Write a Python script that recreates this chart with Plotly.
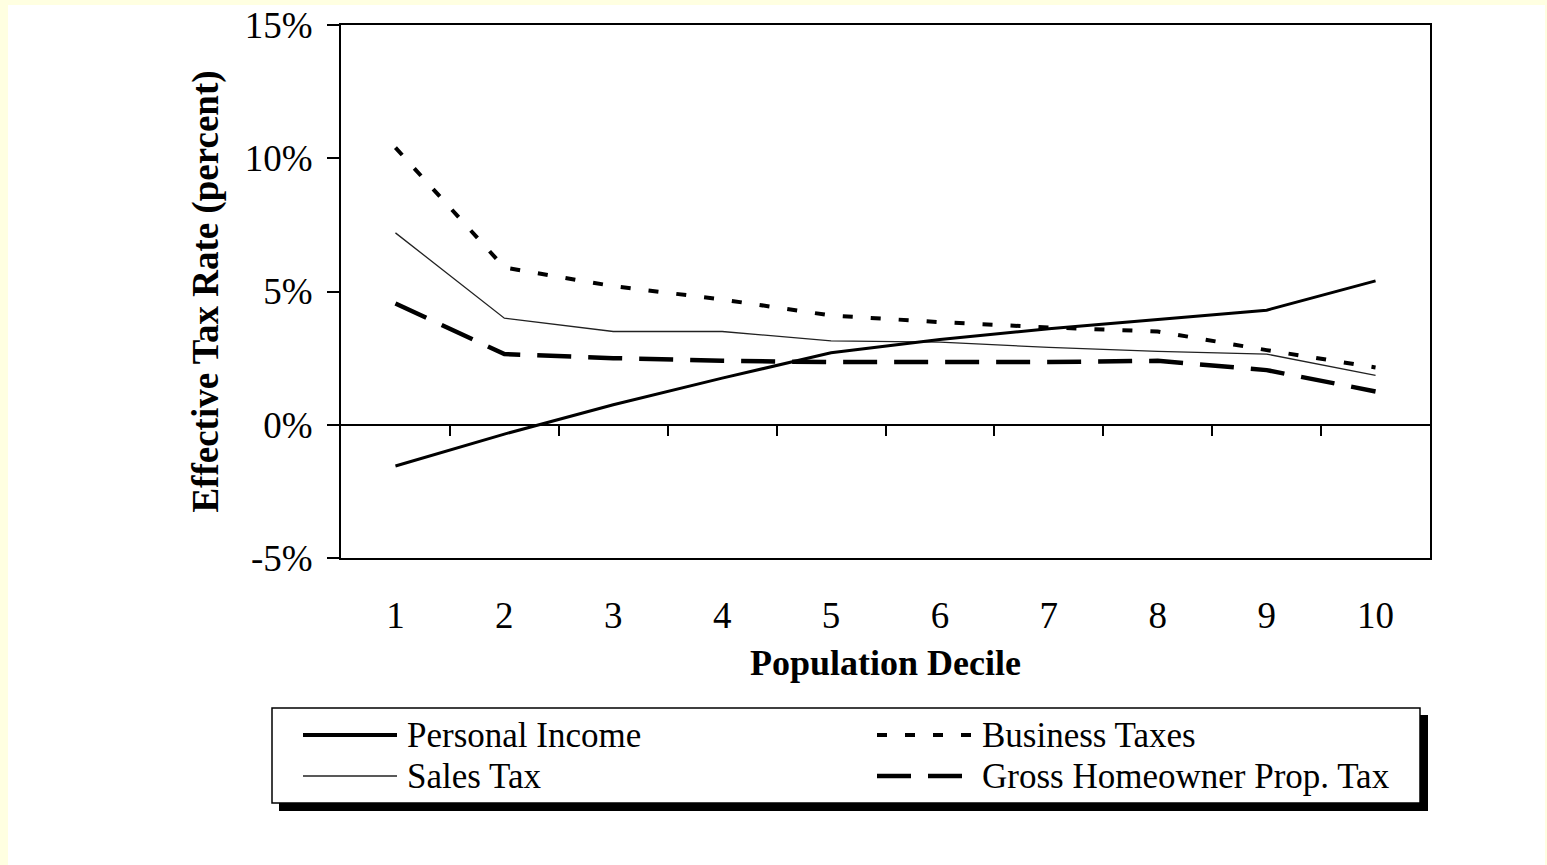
import plotly.graph_objects as go

# ---- data ----
deciles = [1, 2, 3, 4, 5, 6, 7, 8, 9, 10]
decile_labels = ["1", "2", "3", "4", "5", "6", "7", "8", "9", "10"]
personal_income = [-1.55, -0.35, 0.75, 1.75, 2.7, 3.2, 3.6, 3.95, 4.3, 5.4]
sales_tax = [7.2, 4.0, 3.5, 3.5, 3.15, 3.1, 2.9, 2.75, 2.65, 1.85]
business_taxes = [10.4, 5.9, 5.2, 4.7, 4.1, 3.85, 3.65, 3.5, 2.8, 2.15]
homeowner_tax = [4.55, 2.65, 2.5, 2.4, 2.35, 2.35, 2.35, 2.4, 2.05, 1.25]
y_ticks = [-5, 0, 5, 10, 15]
y_tick_labels = ["-5%", "0%", "5%", "10%", "15%"]
between_ticks = [1.5, 2.5, 3.5, 4.5, 5.5, 6.5, 7.5, 8.5, 9.5]
series_names = ["Personal Income", "Sales Tax", "Business Taxes", "Gross Homeowner Prop. Tax"]

FONT = "Liberation Serif"
W, H = 1547, 865
ML, MR, MT, MB = 341, 117, 25, 307
PW, PH = W - ML - MR, H - MT - MB
Y_MIN, Y_MAX = -5, 15
BG = "#FFFFE1"

styles = {
    "Personal Income": dict(color="black", width=3, dash="solid"),
    "Sales Tax": dict(color="#222222", width=1.3, dash="solid"),
    "Business Taxes": dict(color="black", width=4, dash="10px,18px"),
    "Gross Homeowner Prop. Tax": dict(color="black", width=4.5, dash="34px,17px"),
}
values = {
    "Personal Income": personal_income,
    "Sales Tax": sales_tax,
    "Business Taxes": business_taxes,
    "Gross Homeowner Prop. Tax": homeowner_tax,
}

fig = go.Figure()
for name in ["Sales Tax", "Gross Homeowner Prop. Tax", "Business Taxes", "Personal Income"]:
    fig.add_trace(go.Scatter(x=deciles, y=values[name], mode="lines", name=name,
                             line=styles[name], showlegend=False, hoverinfo="skip"))

# invisible trace so the overlay axis (ticks on the zero line) is drawn
fig.add_trace(go.Scatter(x=deciles, y=personal_income, xaxis="x2", mode="lines",
                         line=dict(width=0), opacity=0, showlegend=False, hoverinfo="skip"))


def px_x(px):
    return (px - ML) / PW


def px_y(py):
    return (H - MB - py) / PH


shapes = []
# white page inside the pale-yellow frame
shapes.append(dict(type="rect", xref="paper", yref="paper", layer="below",
                   x0=px_x(8), x1=px_x(1545), y0=px_y(870), y1=px_y(5),
                   fillcolor="white", line=dict(width=0)))
# legend shadow and box
shapes.append(dict(type="rect", xref="paper", yref="paper",
                   x0=px_x(279), x1=px_x(1428), y0=px_y(811), y1=px_y(715),
                   fillcolor="black", line=dict(width=0)))
shapes.append(dict(type="rect", xref="paper", yref="paper",
                   x0=px_x(272), x1=px_x(1420), y0=px_y(803), y1=px_y(708),
                   fillcolor="white", line=dict(color="black", width=1.5)))

legend_pos = [
    ("Personal Income", 303, 397, 735, 405),
    ("Business Taxes", 877, 972, 735, 980),
    ("Sales Tax", 303, 397, 776, 405),
    ("Gross Homeowner Prop. Tax", 877, 972, 776, 980),
]
annotations = []
for name, lx0, lx1, ly, tx in legend_pos:
    st = styles[name]
    lw = st["width"] + (1 if name == "Personal Income" else 0)
    shapes.append(dict(type="line", xref="paper", yref="paper",
                       x0=px_x(lx0), x1=px_x(lx1), y0=px_y(ly), y1=px_y(ly),
                       line=dict(color=st["color"], width=lw, dash=st["dash"])))
    annotations.append(dict(xref="paper", yref="paper", x=px_x(tx), y=px_y(ly),
                            text=name, showarrow=False, xanchor="left", yanchor="middle",
                            font=dict(family=FONT, size=35, color="black")))

fig.update_layout(
    width=W, height=H, autosize=False,
    margin=dict(l=ML, r=MR, t=MT, b=MB),
    paper_bgcolor=BG, plot_bgcolor="white",
    font=dict(family=FONT, color="black"),
    shapes=shapes, annotations=annotations,
    xaxis=dict(range=[0.5, 10.5], tickvals=deciles, ticktext=decile_labels,
               automargin=False,
               showline=True, linecolor="black", linewidth=2, mirror=True,
               showgrid=False, zeroline=False, ticks="", ticklabelstandoff=24,
               tickfont=dict(family=FONT, size=37, color="black"),
               title=dict(text="<b>Population Decile</b>", standoff=14,
                          font=dict(family=FONT, size=36, color="black"))),
    xaxis2=dict(range=[0.5, 10.5], overlaying="x", anchor="free",
                position=(0 - Y_MIN) / (Y_MAX - Y_MIN), automargin=False,
                tickvals=between_ticks, showticklabels=False, ticks="outside",
                ticklen=10, tickwidth=2, tickcolor="black",
                showline=False, showgrid=False, zeroline=False),
    yaxis=dict(range=[Y_MIN, Y_MAX], tickvals=y_ticks, ticktext=y_tick_labels,
               automargin=False,
               showline=True, linecolor="black", linewidth=2, mirror=True,
               ticks="outside", ticklen=12, tickwidth=2, tickcolor="black",
               ticklabelstandoff=7, showgrid=False,
               zeroline=True, zerolinecolor="black", zerolinewidth=1.6,
               tickfont=dict(family=FONT, size=37, color="black"),
               title=dict(text="<b>Effective Tax Rate (percent)</b>", standoff=15,
                          font=dict(family=FONT, size=37, color="black"))),
)

fig.write_html("out.html", config={"displayModeBar": False},
               post_script="document.body.style.margin='0';"
                           "document.body.style.background='" + BG + "';")
